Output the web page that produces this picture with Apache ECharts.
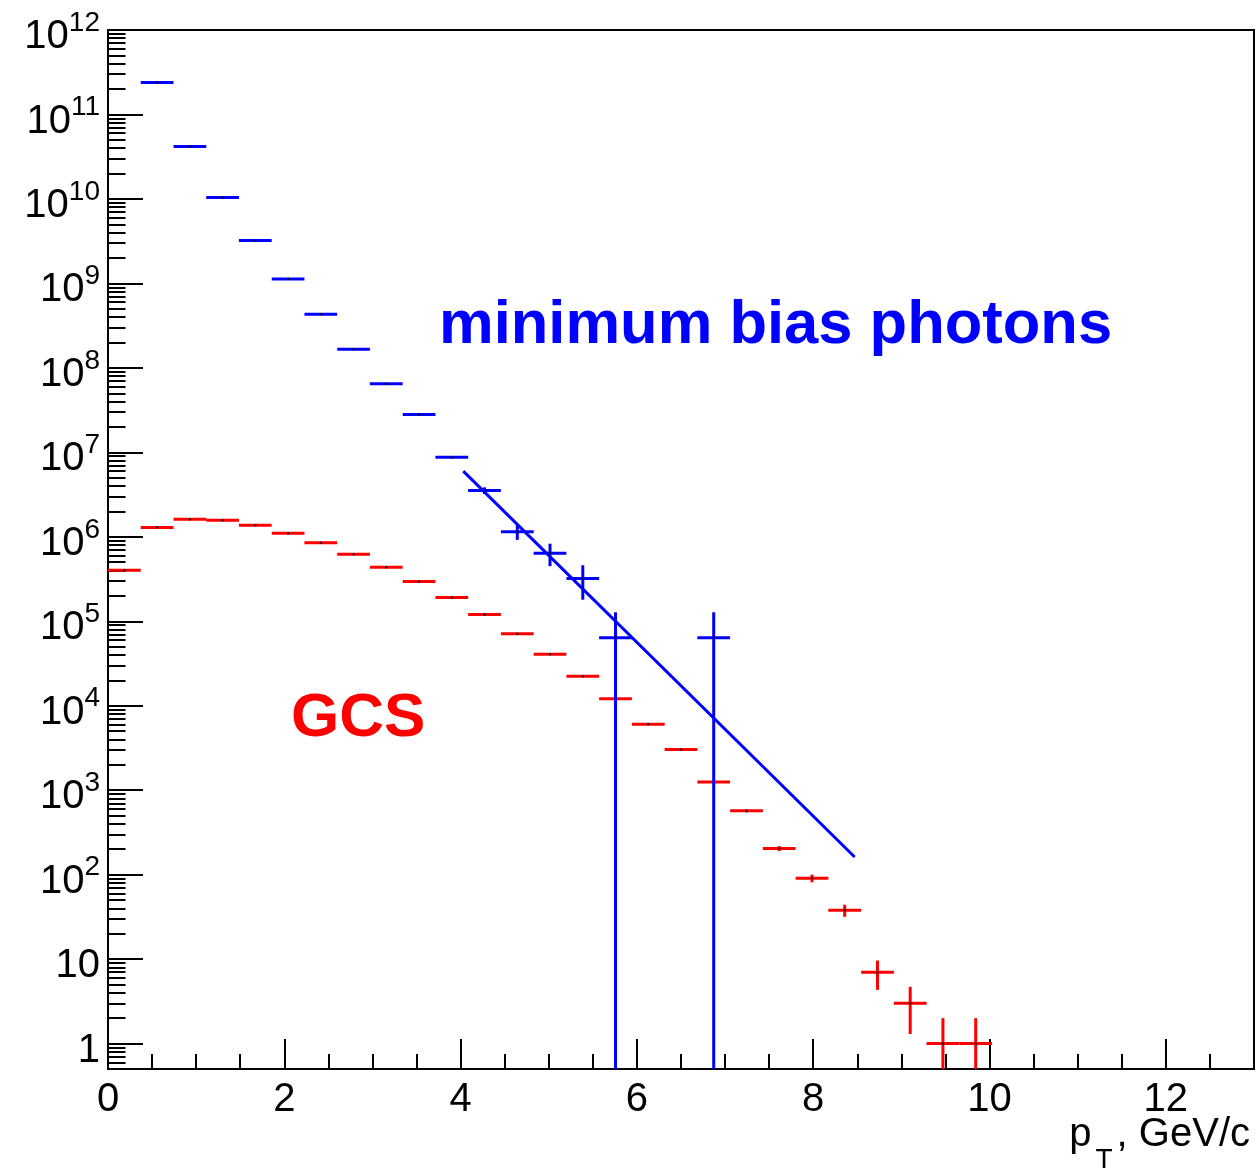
<!DOCTYPE html>
<html><head><meta charset="utf-8">
<script src="https://cdn.jsdelivr.net/npm/echarts@6/dist/echarts.min.js"></script>
<style>html,body{margin:0;padding:0;background:#fff}#c{width:1258px;height:1171px}</style>
</head><body><div id="c"></div>
<script>
// ---- data ----
const binWidth = 13 / 35;

// GCS histogram (red): bin centres, contents, errors
const redX = [0.186, 0.557, 0.929, 1.300, 1.671, 2.043, 2.414, 2.786, 3.157, 3.529,
              3.900, 4.271, 4.643, 5.014, 5.386, 5.757, 6.129, 6.500, 6.871, 7.243,
              7.614, 7.986, 8.357, 8.729, 9.100, 9.471, 9.843];
const redY = [4.02e5, 1.29e6, 1.61e6, 1.57e6, 1.37e6, 1.10e6, 8.48e5, 6.21e5, 4.36e5, 2.95e5,
              1.91e5, 1.20e5, 7.10e4, 4.07e4, 2.23e4, 1.21e4, 6.04e3, 3.03e3, 1.25e3, 569,
              204, 90.6, 37.9, 6.98, 3.0, 1.0, 1.0];
const redErr = [630, 1140, 1270, 1250, 1170, 1050, 920, 790, 660, 540,
                440, 350, 270, 200, 150, 110, 78, 55, 35, 24,
                14, 9.5, 6.2, 2.65, 1.7, 1.0, 1.0];

// minimum bias photons histogram (blue)
const blueX = [0.557, 0.929, 1.300, 1.671, 2.043, 2.414, 2.786, 3.157, 3.529,
               3.900, 4.271, 4.643, 5.014, 5.386, 5.757, 6.871];
const blueY = [2.39e11, 4.17e10, 1.04e10, 3.22e9, 1.13e9, 4.31e8, 1.66e8, 6.47e7, 2.80e7,
               8.75e6, 3.53e6, 1.15e6, 6.39e5, 3.2e5, 6.4e4, 6.4e4];
const blueErr = [7e8, 1.5e8, 5e7, 2e7, 9e6, 4.5e6, 2.2e6, 1.1e6, 5.5e5,
                 2.4e5, 3.2e5, 2.3e5, 1.9e5, 1.4e5, 6.4e4, 6.4e4];

// exponential fit (straight line on the log axis)
const fitX = [4.03, 8.47];
const fitY = [6.0e6, 162];

// tick labels
const xTickLabels = ['0', '2', '4', '6', '8', '10', '12'];
const yTickValues = [1, 1e1, 1e2, 1e3, 1e4, 1e5, 1e6, 1e7, 1e8, 1e9, 1e10, 1e11, 1e12];
const yTickLabels = ['1', '10', '10^2', '10^3', '10^4', '10^5', '10^6', '10^7', '10^8',
                     '10^9', '10^10', '10^11', '10^12'];

// ---- chart ----
const FONT = '"Liberation Sans", Arial, Helvetica, sans-serif';
const BLUE = '#0000ff', RED = '#ff0000';

// log minor ticks (2..9 x 10^k) inside the axis range
const yMinorTicks = [];
for (let e = -1; e < 12; e++) {
  for (let m = 2; m <= 9; m++) {
    const v = m * Math.pow(10, e);
    if (v > 0.5 && v < 1e12) yMinorTicks.push(v);
  }
}

function histSeries(name, xs, ys, errs, color, z) {
  return {
    type: 'custom', name: name, z: z, silent: true,
    data: xs.map((x, i) => [x, ys[i], errs[i]]),
    encode: { x: 0, y: 1 },
    renderItem: function (params, api) {
      const x = api.value(0), y = api.value(1), e = api.value(2);
      const cs = params.coordSys;
      const c = api.coord([x, y]);
      const l = api.coord([x - binWidth / 2, y])[0];
      const r = api.coord([x + binWidth / 2, y])[0];
      const top = Math.max(cs.y, api.coord([x, y + e])[1]);
      const bot = (y - e > 0) ? Math.min(cs.y + cs.height, api.coord([x, y - e])[1]) : cs.y + cs.height;
      const ls = { stroke: color, lineWidth: 3 };
      return { type: 'group', children: [
        { type: 'line', shape: { x1: l, y1: c[1], x2: r, y2: c[1] }, style: ls },
        { type: 'line', shape: { x1: c[0], y1: top, x2: c[0], y2: bot }, style: ls },
        { type: 'rect', shape: { x: c[0] - 1, y: c[1] - 1, width: 2, height: 2 }, style: { fill: '#000' } }
      ] };
    }
  };
}

const chart = echarts.init(document.getElementById('c'), null, { renderer: 'canvas' });
chart.setOption({
  animation: false,
  backgroundColor: '#fff',
  grid: { left: 108, top: 30, right: 4, bottom: 102, outerBoundsMode: 'none', containLabel: false,
          show: true, borderColor: '#000', borderWidth: 2, backgroundColor: 'transparent' },
  xAxis: [{
    type: 'value', min: 0, max: 13, interval: 2, position: 'bottom',
    axisLine: { show: true, onZero: false, lineStyle: { color: '#000', width: 2 } },
    axisTick: { show: true, inside: true, length: 30, lineStyle: { color: '#000', width: 2 } },
    splitLine: { show: false },
    axisLabel: {
      margin: 11, fontSize: 40, fontFamily: FONT, color: '#000',
      formatter: function (v) {
        const i = Math.round(v / 2);
        if (Math.abs(v - 2 * i) > 1e-6 || i >= xTickLabels.length) return '';
        return xTickLabels[i];
      }
    },
    name: '{b|p}{s|T}{b|, GeV/c}',
    nameLocation: 'end', nameGap: -4, nameMoveOverlap: false,
    nameTextStyle: {
      align: 'right', verticalAlign: 'top', padding: [46, 0, 0, 0],
      rich: {
        b: { fontSize: 40, lineHeight: 40, verticalAlign: 'top', fontFamily: FONT, color: '#000' },
        s: { fontSize: 28, lineHeight: 59, verticalAlign: 'bottom', padding: [0, 4, 0, 4], fontFamily: FONT, color: '#000' }
      }
    }
  }, {
    type: 'value', min: 0, max: 13, interval: 0.5, position: 'bottom',
    axisLine: { show: false },
    axisTick: { show: true, inside: true, length: 15, lineStyle: { color: '#000', width: 2 } },
    axisLabel: { show: false },
    splitLine: { show: false }
  }],
  yAxis: [{
    type: 'log', logBase: 10, min: 0.5, max: 1.001e12, position: 'left',
    axisLine: { show: true, lineStyle: { color: '#000', width: 2 } },
    axisTick: { show: true, inside: true, length: 35, customValues: yTickValues,
                lineStyle: { color: '#000', width: 2 } },
    splitLine: { show: false },
    axisLabel: {
      customValues: yTickValues,
      margin: 8, padding: [6, 0, 0, 0], fontSize: 40, fontFamily: FONT, color: '#000',
      formatter: function (v) {
        const lg = Math.log10(v);
        const e = Math.round(lg);
        if (Math.abs(lg - e) > 1e-6 || e < 0 || e >= yTickLabels.length) return '';
        const parts = yTickLabels[e].split('^');
        return parts.length > 1 ? '{b|' + parts[0] + '}{s|' + parts[1] + '}' : '{b|' + parts[0] + '}';
      },
      rich: {
        b: { fontSize: 40, lineHeight: 48, verticalAlign: 'bottom', fontFamily: FONT, color: '#000' },
        s: { fontSize: 28, lineHeight: 28, verticalAlign: 'top', fontFamily: FONT, color: '#000' }
      }
    }
  }, {
    type: 'log', logBase: 10, min: 0.5, max: 1.001e12, position: 'left',
    axisLine: { show: false },
    axisTick: { show: true, inside: true, length: 17.5, customValues: yMinorTicks,
                lineStyle: { color: '#000', width: 2 } },
    axisLabel: { show: false },
    splitLine: { show: false }
  }],
  series: [
    histSeries('GCS', redX, redY, redErr, RED, 3),
    histSeries('minimum bias photons', blueX, blueY, blueErr, BLUE, 4),
    {
      type: 'line', name: 'fit', z: 6, silent: true,
      data: fitX.map((x, i) => [x, fitY[i]]),
      showSymbol: false, symbol: 'none',
      lineStyle: { color: BLUE, width: 3 }
    }
  ],
  graphic: [
    { type: 'text', x: 439, y: 326, silent: true,
      style: { text: 'minimum bias photons', font: 'bold 61.5px ' + FONT, fill: BLUE, verticalAlign: 'middle', align: 'left' } },
    { type: 'text', x: 291, y: 719, silent: true,
      style: { text: 'GCS', font: 'bold 62px ' + FONT, fill: RED, verticalAlign: 'middle', align: 'left' } }
  ]
});
</script>
</body></html>
